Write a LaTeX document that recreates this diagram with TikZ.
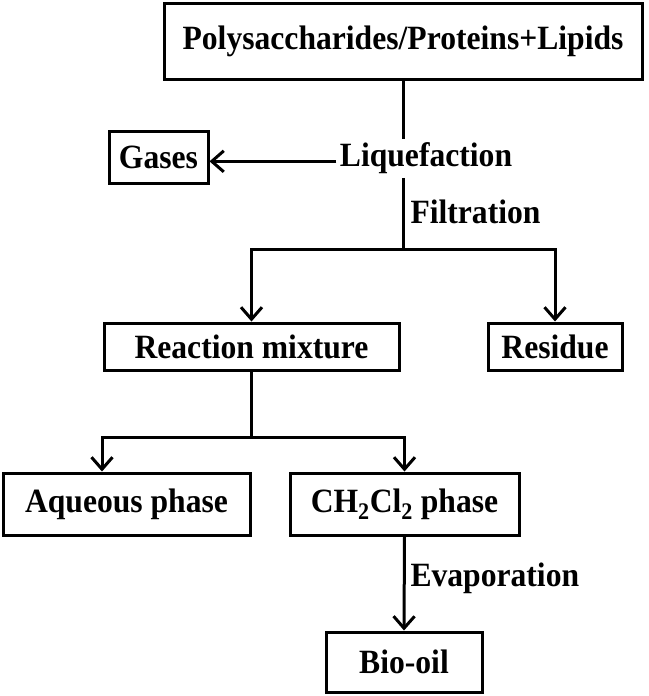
\documentclass[tikz,border=0pt]{standalone}
\usepackage{fontspec}
\setmainfont{Liberation Serif}[FakeStretch=0.93]
\usetikzlibrary{arrows.meta}

\begin{document}
\begin{tikzpicture}[
  x=1pt,y=-1pt,
  box/.style={draw,line width=3pt,inner sep=0pt,font=\fontsize{34}{40}\selectfont\bfseries},
  lbl/.style={inner xsep=2pt,inner ysep=2.5pt,font=\fontsize{34}{40}\selectfont\bfseries},
  arr/.style={-{Straight Barb[length=12pt,width=21pt]}},
  line width=3pt
  ]
  \useasboundingbox (0,0) rectangle (648,696);

  \node[box,minimum width=478pt,minimum height=76pt] (feed) at (403,41) {Polysaccharides/Proteins+Lipids};
  \node[box,minimum width=99pt,minimum height=52pt] (gas) at (158.5,157.5) {Gases};
  \node[lbl,anchor=base] (liq) at (426,166.7) {Liquefaction};
  \node[lbl,anchor=west] (filt) at (407,212) {Filtration};
  \node[box,minimum width=295pt,minimum height=47pt] (mix) at (251.5,346.5) {Reaction mixture};
  \node[box,minimum width=134pt,minimum height=47pt] (res) at (555,346.5) {Residue};
  \node[box,minimum width=247pt,minimum height=62pt] (aq) at (126.5,504) {Aqueous phase};
  \node[box,minimum width=229pt,minimum height=62pt] (org) at (404.5,504) {CH\textsubscript{2}Cl\textsubscript{2} phase};
  \node[lbl,anchor=west] (evap) at (407,578) {Evaporation};
  \node[box,minimum width=156pt,minimum height=60pt] (oil) at (404,662) {Bio-oil};

  % liquefaction and filtration
  \coordinate (fork1) at (403,249);
  \coordinate (liqout) at ([yshift=-3pt]liq.west);
  \draw (feed.south) -- (feed.south |- liq.north);
  \draw[arr] (liqout) -- (liqout -| gas.east);
  \draw (fork1 |- liq.south) -- (fork1);
  \draw[arr] (fork1) -| (mix.north);
  \draw[arr] (fork1) -| (res.north);

  % phase separation
  \coordinate (fork2) at (251.5,437);
  \coordinate (aqin) at (102,437);
  \draw (mix.south) -- (fork2);
  \draw[arr] (fork2) -- (aqin) -- (aqin |- aq.north);
  \draw[arr] (fork2) -| (org.north);
  \draw[arr] (org.south) -- (oil.north);
\end{tikzpicture}
\end{document}
